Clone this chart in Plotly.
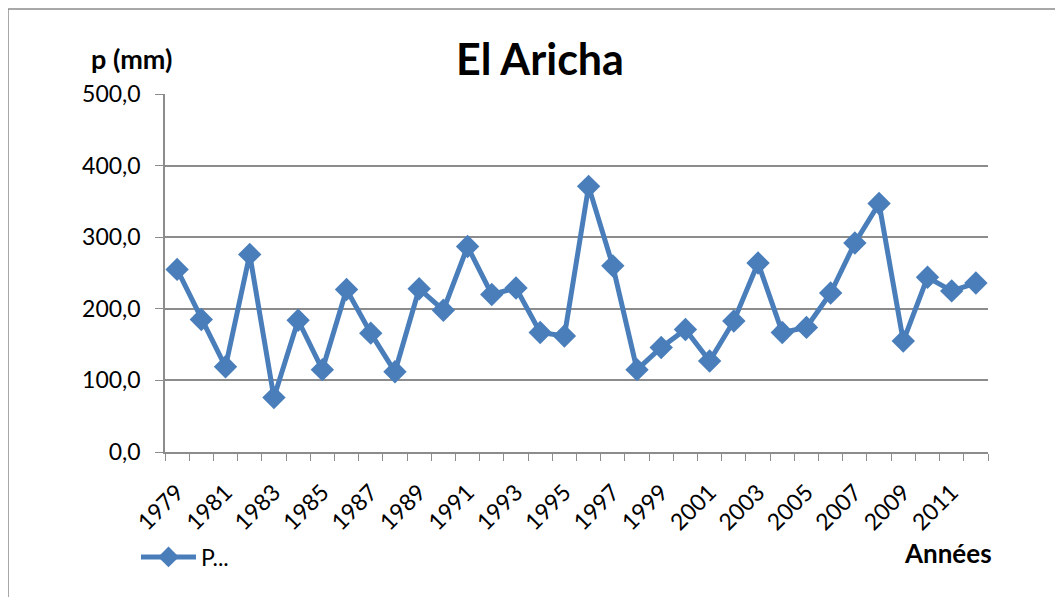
import plotly.graph_objects as go

years = list(range(1979, 2013))
precip = [255, 185, 119, 276, 76, 184, 115, 227, 166, 112, 228, 198, 287, 220, 229,
          167, 162, 371, 260, 115, 146, 171, 127, 183, 264, 167, 174, 222, 292, 347,
          155, 244, 225, 236]
tick_years = list(range(1979, 2012, 2))
y_ticks = [0, 100, 200, 300, 400, 500]

FONT = "Lato, 'Open Sans', sans-serif"
BLUE = "#4A7EBB"
GRID = "#8C8C8C"

# the page has an 8px body margin; work in screenshot pixels and shift
OFF = 8
W, H = 1063 - OFF, 597 - OFF
PL, PR, PT, PB = 165, 988, 94, 452   # plot area in screenshot pixels
L, R, T, B = PL - OFF, W - (PR - OFF), PT - OFF, H - (PB - OFF)
pw, ph = W - L - R, H - T - B

def px2x(px):
    return (px - PL) / pw

def py2y(py):
    return (PB - py) / ph

fig = go.Figure()
fig.add_trace(go.Scatter(
    x=years, y=precip, mode="lines+markers", name="P...",
    line=dict(color=BLUE, width=5),
    marker=dict(symbol="diamond", size=18, color=BLUE),
))

fig.update_layout(
    width=W, height=H,
    margin=dict(l=L, r=R, t=T, b=B),
    paper_bgcolor="white", plot_bgcolor="white",
    separators=", ",
    font=dict(family=FONT, size=23, color="black"),
    title=dict(text="<b>El Aricha</b>", x=(540 - OFF) / W, xref="container",
               y=1 - (60 - OFF) / H, yref="container",
               xanchor="center", yanchor="middle", font=dict(size=43, family=FONT)),
    showlegend=True,
    legend=dict(x=px2x(136), y=py2y(557), xanchor="left", yanchor="middle",
                font=dict(size=23, family=FONT), bgcolor="rgba(0,0,0,0)", itemwidth=55),
    xaxis=dict(
        range=[1978.5, 2012.5], tickmode="array", tickvals=tick_years,
        ticktext=[str(y) for y in tick_years], tickangle=-45,
        ticks="", showgrid=False, showline=True, linecolor=GRID, linewidth=1.5,
        tickfont=dict(size=23, family=FONT), ticklabelstandoff=16,
        minor=dict(tickmode="array", tickvals=[y + 0.5 for y in range(1978, 2013)],
                   ticks="outside", ticklen=7, tickcolor=GRID, showgrid=False),
        zeroline=False,
    ),
    yaxis=dict(
        range=[0, 500], tickmode="array", tickvals=y_ticks, tickformat=".1f",
        ticks="outside", ticklen=8, tickcolor=GRID, ticklabelstandoff=10,
        showgrid=True, gridcolor=GRID, gridwidth=1.5,
        showline=True, linecolor=GRID, linewidth=1.5,
        tickfont=dict(size=23, family=FONT), zeroline=False,
    ),
)

fig.add_annotation(text="<b>p (mm)</b>", xref="paper", yref="paper",
                   x=px2x(131), y=py2y(58), xanchor="center", yanchor="middle",
                   showarrow=False, font=dict(size=27, family=FONT))
fig.add_annotation(text="<b>Années</b>", xref="paper", yref="paper",
                   x=px2x(994), y=py2y(553), xanchor="right", yanchor="middle",
                   showarrow=False, font=dict(size=26, family=FONT))
fig.add_shape(type="rect", xref="paper", yref="paper",
              x0=px2x(8), y0=py2y(620), x1=px2x(1080), y1=py2y(9),
              line=dict(color="#8C8C8C", width=1.5), fillcolor="rgba(0,0,0,0)", layer="below")

fig.write_html("out.html")
